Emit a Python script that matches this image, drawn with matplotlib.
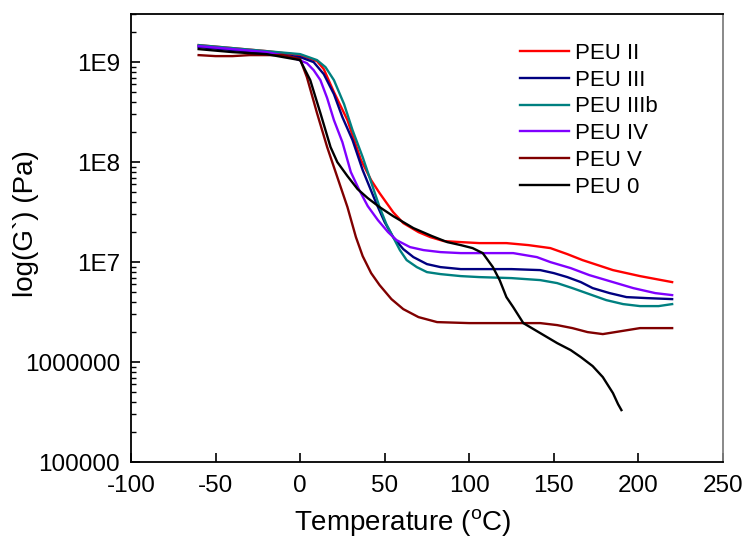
import numpy as np
import matplotlib
matplotlib.use("Agg")
import matplotlib.pyplot as plt
from matplotlib.ticker import FixedLocator, LogLocator, NullFormatter

plt.rcParams["font.family"] = ["Liberation Sans", "DejaVu Sans"]
plt.rcParams["mathtext.fontset"] = "custom"
plt.rcParams["mathtext.rm"] = "Liberation Sans"
plt.rcParams["axes.unicode_minus"] = False

# Data: temperature (C) and log10(G') (Pa)
t_peu2 = [-60, -40, -20, 0, 10, 14, 20, 28, 36, 42, 47, 55, 61, 70, 77, 85, 95, 106,
          122, 135, 148, 158, 167, 176, 185, 201, 220]
g_peu2 = [9.17, 9.14, 9.11, 9.07, 9.01, 8.93, 8.70, 8.42, 8.02, 7.82, 7.69, 7.50, 7.39,
          7.30, 7.25, 7.21, 7.20, 7.19, 7.19, 7.17, 7.14, 7.08, 7.02, 6.97, 6.92, 6.86, 6.80]

t_peu3 = [-60, -40, -20, 0, 8, 14, 20, 25, 31, 37, 45, 50, 55, 61, 67, 75, 83, 95, 106,
          125, 142, 150, 158, 166, 173, 183, 193, 205, 220]
g_peu3 = [9.15, 9.12, 9.09, 9.05, 9.00, 8.88, 8.68, 8.45, 8.22, 7.92, 7.59, 7.40, 7.25,
          7.13, 7.05, 6.98, 6.95, 6.93, 6.93, 6.93, 6.92, 6.89, 6.85, 6.80, 6.74, 6.69,
          6.65, 6.64, 6.63]

t_peu3b = [-60, -40, -20, 0, 10, 15, 20, 26, 31, 37, 41, 47, 51, 55, 59, 63, 69, 75, 83,
           95, 106, 125, 142, 152, 161, 171, 181, 191, 201, 212, 220]
g_peu3b = [9.17, 9.14, 9.11, 9.08, 9.02, 8.95, 8.82, 8.58, 8.32, 8.05, 7.85, 7.55, 7.38,
           7.25, 7.12, 7.02, 6.95, 6.90, 6.88, 6.86, 6.85, 6.84, 6.82, 6.79, 6.74, 6.68,
           6.62, 6.58, 6.56, 6.56, 6.58]

t_peu4 = [-60, -40, -20, -5, 4, 8, 12, 16, 20, 25, 30, 35, 40, 46, 52, 57, 65, 73, 83,
          95, 106, 126, 140, 148, 160, 171, 185, 197, 210, 220]
g_peu4 = [9.16, 9.13, 9.10, 9.05, 8.99, 8.92, 8.82, 8.64, 8.42, 8.20, 7.90, 7.72, 7.56,
          7.42, 7.30, 7.22, 7.15, 7.12, 7.10, 7.09, 7.09, 7.09, 7.05, 7.00, 6.94, 6.87,
          6.80, 6.74, 6.69, 6.67]

t_peu5 = [-60, -50, -40, -30, -20, -10, 0, 4, 10, 16, 22, 25, 28, 33, 37, 42, 47, 54,
          61, 70, 81, 100, 120, 142, 152, 161, 170, 179, 190, 201, 210, 220]
g_peu5 = [9.07, 9.06, 9.06, 9.07, 9.07, 9.07, 9.03, 8.85, 8.49, 8.15, 7.85, 7.70, 7.55,
          7.25, 7.06, 6.89, 6.77, 6.63, 6.53, 6.45, 6.40, 6.39, 6.39, 6.39, 6.37, 6.34,
          6.30, 6.28, 6.31, 6.34, 6.34, 6.34]

t_peu0 = [-60, -40, -20, 0, 6, 12, 18, 22, 28, 34, 40, 47, 55, 67, 78, 87, 95, 102, 108,
          114, 118, 122, 126, 132, 142, 152, 160, 166, 173, 179, 185, 188, 190]
g_peu0 = [9.13, 9.10, 9.08, 9.02, 8.82, 8.49, 8.15, 8.00, 7.86, 7.73, 7.64, 7.55, 7.46,
          7.34, 7.26, 7.20, 7.17, 7.14, 7.09, 6.95, 6.82, 6.65, 6.55, 6.39, 6.29, 6.19,
          6.12, 6.05, 5.96, 5.85, 5.69, 5.58, 5.52]

labels = ["PEU II", "PEU III", "PEU IIIb", "PEU IV", "PEU V", "PEU 0"]
colors = ["#ff0000", "#000080", "#008080", "#8000ff", "#800000", "#000000"]
temps = [t_peu2, t_peu3, t_peu3b, t_peu4, t_peu5, t_peu0]
moduli = [g_peu2, g_peu3, g_peu3b, g_peu4, g_peu5, g_peu0]

y_ticks = [1e5, 1e6, 1e7, 1e8, 1e9]
y_ticklabels = ["100000", "1000000", "1E7", "1E8", "1E9"]
x_ticks = [-100, -50, 0, 50, 100, 150, 200, 250]

fig = plt.figure(figsize=(7.46, 5.43), dpi=100)
ax = fig.add_axes([0.1756, 0.149, 0.7934, 0.825])

for t, g, lab, c in zip(temps, moduli, labels, colors):
    ax.plot(t, 10 ** np.array(g), color=c, lw=1.7, label=lab)

ax.set_yscale("log")
ax.set_xlim(-100, 250)
ax.set_ylim(1e5, 10 ** 9.48)

ax.xaxis.set_major_locator(FixedLocator(x_ticks))
ax.set_yticks(y_ticks)
ax.set_yticklabels(y_ticklabels)
ax.yaxis.set_minor_locator(LogLocator(base=10, subs=np.arange(2, 10)))
ax.yaxis.set_minor_formatter(NullFormatter())

ax.tick_params(axis="both", which="major", direction="in", length=6.5, width=1.2,
               labelsize=17.5, top=False, right=False)
ax.tick_params(axis="y", which="minor", direction="in", length=3.6, width=1.0,
               right=False)
ax.tick_params(axis="x", pad=9)
ax.tick_params(axis="y", pad=8)

for side in ["left", "bottom", "top"]:
    ax.spines[side].set_linewidth(1.3)
ax.spines["right"].set_color("#808080")
ax.spines["right"].set_linewidth(1.3)

ax.set_xlabel("Temperature ($^{\\mathregular{o}}$C)", fontsize=20)
ax.xaxis.set_label_coords(0.459, -0.102)
ax.set_ylabel("log(G`) (Pa)", fontsize=20)
ax.yaxis.set_label_coords(-0.156, 0.532)

ax.legend(loc="upper left", frameon=False, fontsize=16, handlelength=2.2,
          handletextpad=0.3, labelspacing=0.26, borderpad=0, borderaxespad=0,
          bbox_to_anchor=(0.657, 0.936))

fig.savefig("out.png", dpi=100)
